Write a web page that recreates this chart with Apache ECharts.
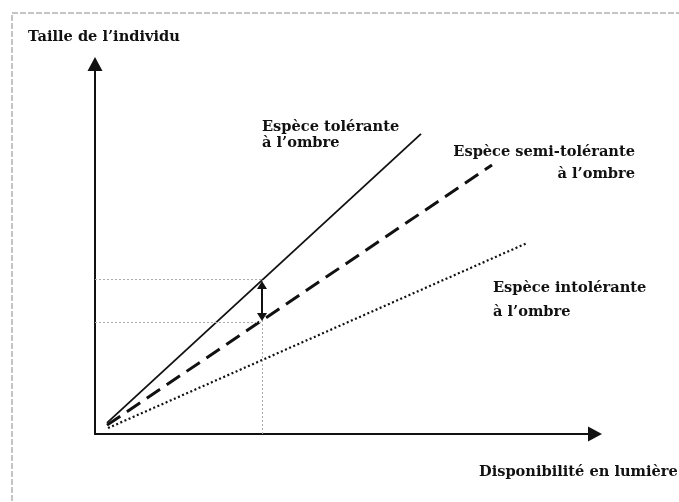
<!DOCTYPE html>
<html>
<head>
<meta charset="utf-8">
<title>Taille de l'individu / disponibilité en lumière</title>
<script src="https://cdn.jsdelivr.net/npm/echarts@6/dist/echarts.min.js"></script>
<style>
html, body { margin: 0; padding: 0; background: #fff; }
#main { width: 679px; height: 502px; }
</style>
</head>
<body>
<div id="main"></div>
<script>
var tolerante = [ [ 2.4, 3.0 ], [ 65.2, 81.1 ] ];
var semiTolerante = [ [ 2.4, 2.4 ], [ 79.4, 72.7 ] ];
var intolerante = [ [ 2.6, 1.6 ], [ 86.4, 51.6 ] ];

// repères : lumière donnée, tailles atteintes
var lumiereRef = 33.4;
var tailleRef = [ 41.9, 30.3 ];
var ecart = [ 40.3, 31.6 ];

var nomAxeX = 'Disponibilité en lumière';
var nomAxeY = 'Taille de l\u2019individu';
var etiquettes = [ 'Espèce tolérante\nà l\u2019ombre',
		'Espèce semi-tolérante\nà l\u2019ombre', 'Espèce intolérante\nà l\u2019ombre' ];

var police = 'bold 14.6px "DejaVu Serif", serif';

var myChart = echarts.init(document.getElementById('main'));

var axeCommun = {
	type : 'value',
	min : 0,
	max : 100,
	splitLine : { show : false },
	axisTick : { show : false },
	axisLabel : { show : false },
	axisLine : {
		show : true,
		symbol : [ 'none', 'triangle' ],
		symbolSize : [ 15, 14 ],
		lineStyle : { color : '#111', width : 2 }
	}
};

var option = {
	animation : false,
	backgroundColor : '#fff',
	grid : {
		left : 95,
		right : 84,
		top : 64,
		bottom : 68
	},
	xAxis : axeCommun,
	yAxis : axeCommun,
	series : [ {
		name : 'tolérante',
		type : 'line',
		data : tolerante,
		symbol : 'none',
		lineStyle : { color : '#111', width : 1.8 }
	}, {
		name : 'semi-tolérante',
		type : 'line',
		data : semiTolerante,
		symbol : 'none',
		lineStyle : { color : '#111', width : 3, type : [ 16, 8 ] }
	}, {
		name : 'intolérante',
		type : 'line',
		data : intolerante,
		symbol : 'none',
		lineStyle : { color : '#111', width : 2.2, type : [ 2, 2.5 ] }
	}, {
		// pointillés gris de lecture
		name : 'repères',
		type : 'line',
		symbol : 'none',
		silent : true,
		data : [],
		markLine : {
			symbol : [ 'none', 'none' ],
			silent : true,
			label : { show : false },
			lineStyle : { color : '#aaa', width : 1, type : [ 2, 2 ] },
			data : [
				[ { coord : [ lumiereRef, 0 ] }, { coord : [ lumiereRef, tailleRef[0] ] } ],
				[ { coord : [ 0, tailleRef[0] ] }, { coord : [ lumiereRef, tailleRef[0] ] } ],
				[ { coord : [ 0, tailleRef[1] ] }, { coord : [ lumiereRef, tailleRef[1] ] } ]
			]
		}
	}, {
		// double flèche entre les deux courbes
		name : 'écart',
		type : 'line',
		symbol : 'none',
		data : [],
		markLine : {
			symbol : [ 'triangle', 'triangle' ],
			symbolSize : [ 10, 8 ],
			silent : true,
			label : { show : false },
			lineStyle : { color : '#111', width : 2, type : 'solid' },
			data : [
				[ { coord : [ lumiereRef, ecart[0] ] }, { coord : [ lumiereRef, ecart[1] ] } ]
			]
		}
	} ],
	graphic : [ {
		// cadre scanné
		type : 'rect',
		shape : { x : 12, y : 13, width : 700, height : 520 },
		style : { fill : 'none', stroke : '#8a8a8a', lineWidth : 1, lineDash : [ 6, 2 ] },
		silent : true
	}, {
		type : 'text',
		x : 28,
		y : 37,
		style : { text : nomAxeY, font : police, fill : '#111', textVerticalAlign : 'middle' }
	}, {
		type : 'text',
		x : 479,
		y : 472,
		style : { text : nomAxeX, font : police, fill : '#111', textVerticalAlign : 'middle' }
	}, {
		type : 'text',
		x : 262,
		y : 119,
		style : { text : etiquettes[0], font : police, fill : '#111', lineHeight : 16, textVerticalAlign : 'top' }
	}, {
		type : 'text',
		x : 635,
		y : 141,
		style : { text : etiquettes[1], font : police, fill : '#111', lineHeight : 22,
			textAlign : 'right', textVerticalAlign : 'top' }
	}, {
		type : 'text',
		x : 493,
		y : 276,
		style : { text : etiquettes[2], font : police, fill : '#111', lineHeight : 24, textVerticalAlign : 'top' }
	} ]
};

myChart.setOption(option);
</script>
</body>
</html>
